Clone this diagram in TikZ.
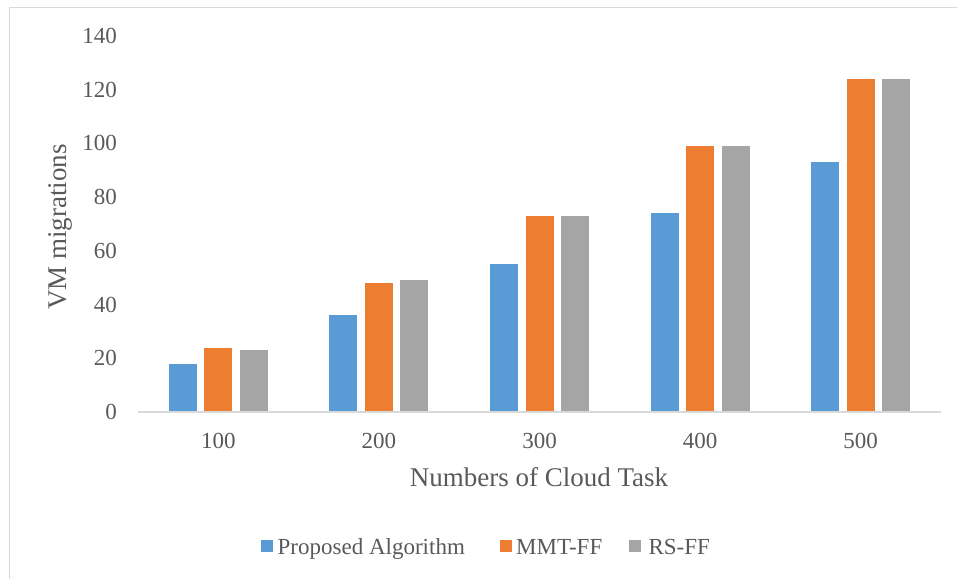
\documentclass[tikz,border=0pt]{standalone}
\usepackage{fontspec}
\setmainfont{Liberation Serif}
\usetikzlibrary{positioning}
\definecolor{barblue}{HTML}{5B9BD5}
\definecolor{barorange}{HTML}{ED7D31}
\definecolor{bargrey}{HTML}{A5A5A5}
\definecolor{axisgrey}{HTML}{D9D9D9}
\definecolor{framegrey}{HTML}{D9D9D9}
\definecolor{labelgrey}{HTML}{595959}

\begin{document}
\begin{tikzpicture}[x=1pt,y=-1pt,font=\fontsize{23}{27}\selectfont,text=labelgrey]
  \tikzset{ticklabel/.style={anchor=east, inner sep=0pt},
           catlabel/.style={anchor=center, inner sep=0pt},
           axistitle/.style={inner sep=0pt, font=\fontsize{27}{31}\selectfont},
           legsquare/.style={fill=#1, minimum size=12pt, inner sep=0pt, anchor=north west},
           legtext/.style={anchor=base west, inner sep=0pt}}
  \useasboundingbox (0,0) rectangle (957,579);
  % frame (only top and left edges show)
  \draw[framegrey, line width=1.5pt] (9.5,579) |- (957,7.5);
  % value ticks
  \foreach \v in {0,20,...,140}
    \node[ticklabel] (y\v) at (117,{412-2.686*\v}) {\v};
  % bars
  \foreach \n/\a/\b/\c [count=\i] in {100/18/24/23, 200/36/48/49, 300/55/73/73, 400/74/99/99, 500/93/124/124} {
    \pgfmathsetmacro{\cx}{138+160.6*(\i-0.5)}
    \fill[barblue] ({\cx-49.5},411) rectangle ({\cx-21.5},{412-2.686*\a});
    \fill[barorange] ({\cx-14},411) rectangle ({\cx+14},{412-2.686*\b});
    \fill[bargrey] ({\cx+21.5},411) rectangle ({\cx+49.5},{412-2.686*\c});
    \node[catlabel] (x\n) at (\cx,440.5) {\n};
  }
  % category axis
  \coordinate (axisL) at (138,412);
  \coordinate (axisR) at (941,412);
  \draw[axisgrey, line width=1.5pt] (axisL) -- (axisR);
  % axis titles
  \node[axistitle, anchor=base] (xtitle) at (539,486) {Numbers of Cloud Task};
  \node[axistitle, rotate=90] (ytitle) at (60.5,227) {VM migrations};
  % legend
  \node[legsquare=barblue] (sqA) at (261,540) {};
  \node[legtext] (lgA) at (277.5,554) {Proposed Algorithm};
  \node[legsquare=barorange] (sqB) at (500,540) {};
  \node[legtext] (lgB) at (516,554) {MMT-FF};
  \node[legsquare=bargrey] (sqC) at (628.5,540) {};
  \node[legtext] (lgC) at (648.3,554) {RS-FF};
\end{tikzpicture}
\end{document}
